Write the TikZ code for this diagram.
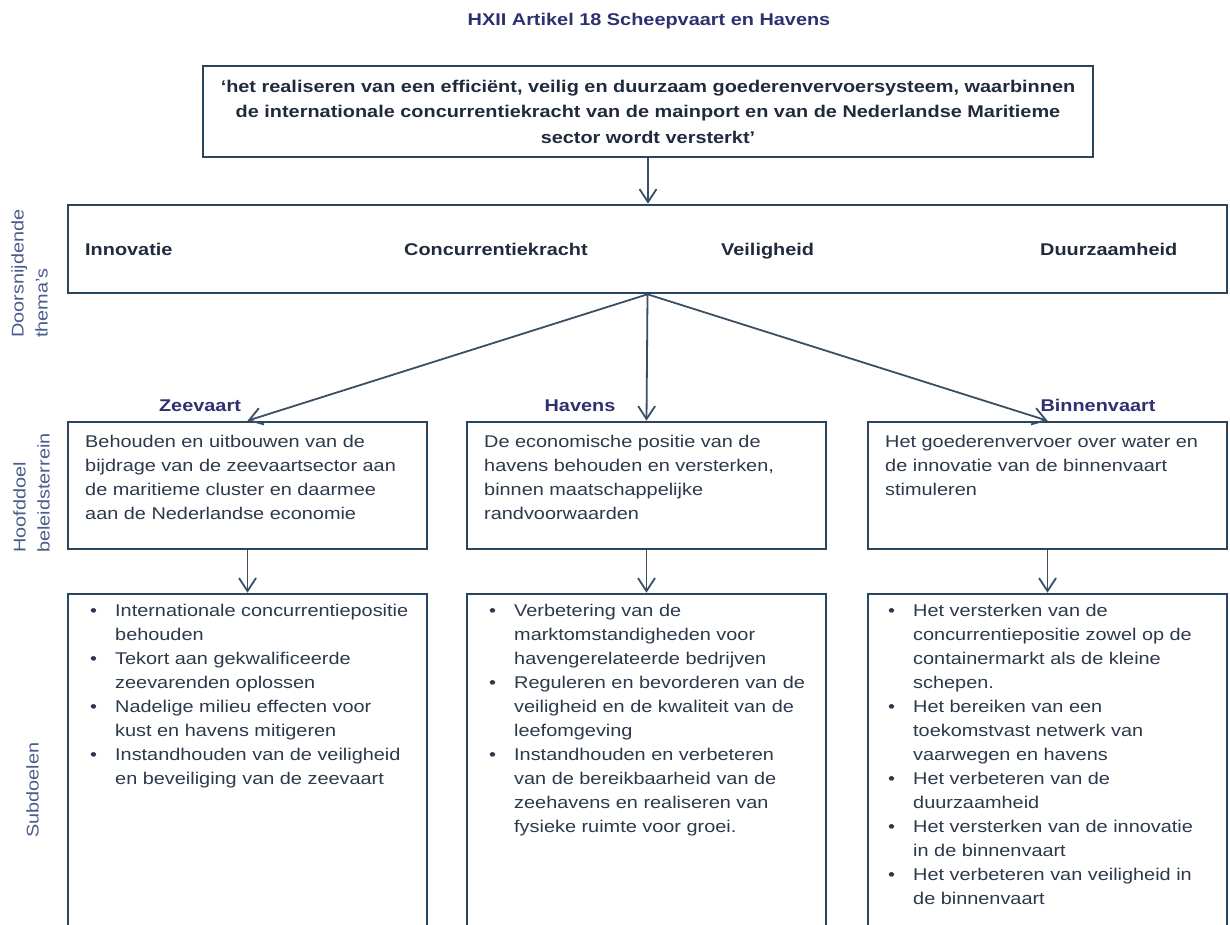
\documentclass[tikz,border=0pt]{standalone}
\usepackage{fontspec}
\setmainfont{Liberation Sans}[FakeStretch=1.17]
\usetikzlibrary{arrows.meta}
\definecolor{boxline}{HTML}{2A465F}
\definecolor{arrowc}{HTML}{3A4F66}
\definecolor{bodyc}{HTML}{2C384B}
\definecolor{boldc}{HTML}{1F2B3D}
\definecolor{titlec}{HTML}{2E3070}
\definecolor{sidec}{HTML}{4A5C8C}
\newcommand{\bul}{\llap{\makebox[25pt][l]{•}}}
\begin{document}
\begin{tikzpicture}[x=1pt,y=-1pt,
  box/.style={draw=boxline, line width=2.6pt, inner sep=0pt},
  conn/.style={draw=arrowc, line width=1.8pt, -{Straight Barb[length=13pt,width=17pt]}},
  body/.style={inner sep=0pt, anchor=north west, align=left, text=bodyc, font=\fontsize{17}{24}\selectfont},
  theme/.style={inner sep=0pt, anchor=base west, text=boldc, font=\bfseries\fontsize{17}{24}\selectfont},
  lab/.style={inner sep=0pt, anchor=base, text=titlec, font=\bfseries\fontsize{17}{24}\selectfont},
  side/.style={inner sep=0pt, rotate=90, anchor=north west, align=left, text=sidec, font=\fontsize{17}{24}\selectfont}]
\useasboundingbox (0,0) rectangle (1230,924);
\clip (0,0) rectangle (1230,924);

\node[lab] (title) at (649,25) {HXII Artikel 18 Scheepvaart en Havens};

\node[box, minimum width=890pt, minimum height=91pt, align=center, text=boldc,
  font=\bfseries\fontsize{17}{25.5}\selectfont] (top) at (648,111.5)
  {‘het realiseren van een efficiënt, veilig en duurzaam goederenvervoersysteem, waarbinnen\\
   de internationale concurrentiekracht van de mainport en van de Nederlandse Maritieme\\
   sector wordt versterkt’};

\node[box, minimum width=1159pt, minimum height=88pt] (themes) at (647.5,249) {};
\node[theme] (t1) at (85,255) {Innovatie};
\node[theme] (t2) at (404,255) {Concurrentiekracht};
\node[theme] (t3) at (721,255) {Veiligheid};
\node[theme] (t4) at (1040,255) {Duurzaamheid};

\node[side] (s1) at (11,338) {Doorsnijdende\\thema's};
\node[side] (s2) at (13,553) {Hoofddoel\\beleidsterrein};
\node[side] (s3) at (26,838) {Subdoelen};

\node[lab] (lz) at (200,411) {Zeevaart};
\node[lab] (lh) at (580,411) {Havens};
\node[lab] (lb) at (1098,411) {Binnenvaart};

\node[box, minimum width=359pt, minimum height=127pt] (zm) at (247.5,485.5) {};
\node[box, minimum width=359pt, minimum height=127pt] (hm) at (646.5,485.5) {};
\node[box, minimum width=359pt, minimum height=127pt] (bm) at (1047.5,485.5) {};

\node[body] (zmt) at (85,435) {Behouden en uitbouwen van de\\
  bijdrage van de zeevaartsector aan\\
  de maritieme cluster en daarmee\\
  aan de Nederlandse economie};
\node[body] (hmt) at (484,435) {De economische positie van de\\
  havens behouden en versterken,\\
  binnen maatschappelijke\\
  randvoorwaarden};
\node[body] (bmt) at (885,435) {Het goederenvervoer over water en\\
  de innovatie van de binnenvaart\\
  stimuleren};

\node[box, minimum width=359pt, minimum height=346pt] (zs) at (247.5,767) {};
\node[box, minimum width=359pt, minimum height=346pt] (hs) at (646.5,767) {};
\node[box, minimum width=359pt, minimum height=346pt] (bs) at (1047.5,767) {};

\node[body] (zst) at (115,604) {\bul Internationale concurrentiepositie\\
  behouden\\
  \bul Tekort aan gekwalificeerde\\
  zeevarenden oplossen\\
  \bul Nadelige milieu effecten voor\\
  kust en havens mitigeren\\
  \bul Instandhouden van de veiligheid\\
  en beveiliging van de zeevaart};
\node[body] (hst) at (514,604) {\bul Verbetering van de\\
  marktomstandigheden voor\\
  havengerelateerde bedrijven\\
  \bul Reguleren en bevorderen van de\\
  veiligheid en de kwaliteit van de\\
  leefomgeving\\
  \bul Instandhouden en verbeteren\\
  van de bereikbaarheid van de\\
  zeehavens en realiseren van\\
  fysieke ruimte voor groei.};
\node[body] (bst) at (913,604) {\bul Het versterken van de\\
  concurrentiepositie zowel op de\\
  containermarkt als de kleine\\
  schepen.\\
  \bul Het bereiken van een\\
  toekomstvast netwerk van\\
  vaarwegen en havens\\
  \bul Het verbeteren van de\\
  duurzaamheid\\
  \bul Het versterken van de innovatie\\
  in de binnenvaart\\
  \bul Het verbeteren van veiligheid in\\
  de binnenvaart};

\draw[conn] (top.south) -- (top.south |- themes.north);
\draw[conn] (themes.south) -- (zm.north);
\draw[conn] (themes.south) -- (hm.north);
\draw[conn] (themes.south) -- (bm.north);
\draw[conn] (zm.south) -- (zs.north);
\draw[conn] (hm.south) -- (hs.north);
\draw[conn] (bm.south) -- (bs.north);
\end{tikzpicture}
\end{document}
